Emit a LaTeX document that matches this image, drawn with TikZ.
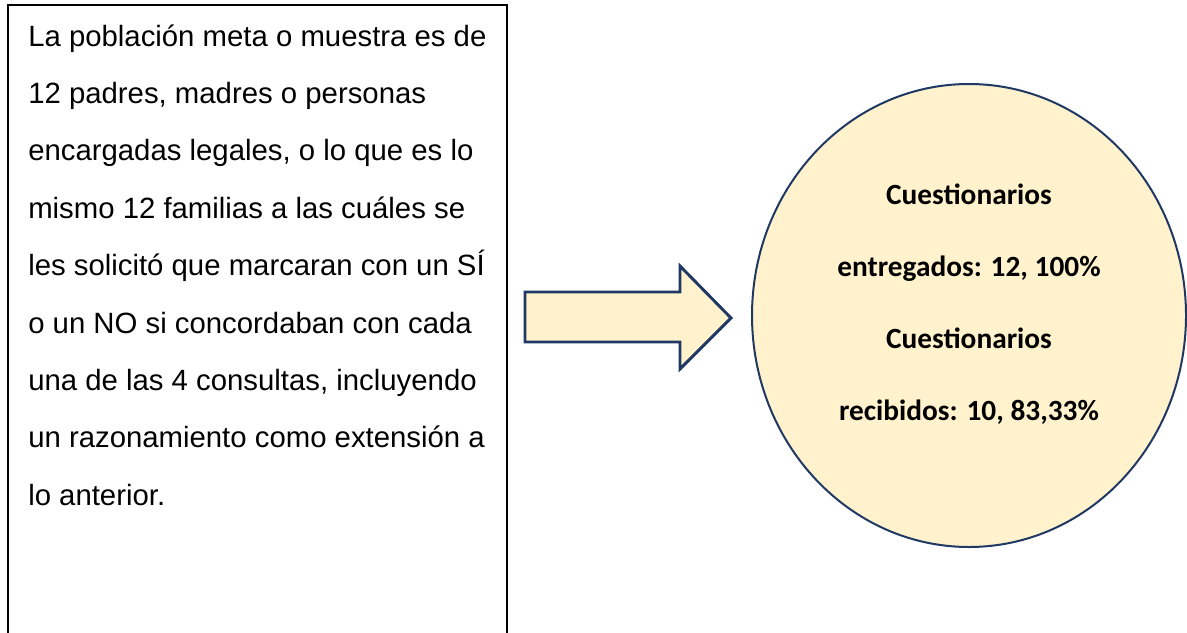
\documentclass[tikz,border=0pt]{standalone}
\usepackage{fontspec}
\setmainfont{Liberation Sans}
\newfontfamily\calfont{Carlito}
\definecolor{fondo}{RGB}{255,242,204}
\definecolor{borde}{RGB}{32,56,100}
\tikzset{
	linea/.style={anchor=base west, inner sep=0pt, font=\fontsize{22}{26}\selectfont},
	cifra/.style={anchor=base, inner sep=0pt, font=\calfont\bfseries\fontsize{22}{26}\selectfont}
}
\begin{document}
\begin{tikzpicture}[x=0.75pt,y=0.75pt,yscale=-1,xscale=1]
	\useasboundingbox (0,0) rectangle (1187,632);
	% cuadro de texto
	\draw [line width=1.5] (8,645) -- (8,5) -- (507,5) -- (507,645) ;
	\draw (28,46) node [linea] (l1) {La población meta o muestra es de};
	\draw (28,103.4) node [linea] (l2) {12 padres, madres o personas};
	\draw (28,160.8) node [linea] (l3) {encargadas legales, o lo que es lo};
	\draw (28,218.2) node [linea] (l4) {mismo 12 familias a las cuáles se};
	\draw (28,275.6) node [linea] (l5) {les solicitó que marcaran con un SÍ};
	\draw (28,333) node [linea] (l6) {o un NO si concordaban con cada};
	\draw (28,390.4) node [linea] (l7) {una de las 4 consultas, incluyendo};
	\draw (28,447.8) node [linea] (l8) {un razonamiento como extensión a};
	\draw (28,505.2) node [linea] (l9) {lo anterior.};
	% flecha
	\draw [color=borde, fill=fondo, line width=2.2, line join=miter] (525,292) -- (680,292) -- (680,266) -- (731,318) -- (680,369) -- (680,342) -- (525,342) -- cycle ;
	% elipse
	\draw [color=borde, fill=fondo, line width=1.5] (969,315.5) ellipse (217 and 231.5) ;
	\draw (969,204) node [cifra] (c1) {Cuestionarios};
	\draw (969,276) node [cifra] (c2) {entregados: 12, 100\%};
	\draw (969,348) node [cifra] (c3) {Cuestionarios};
	\draw (969,420) node [cifra] (c4) {recibidos: 10, 83,33\%};
\end{tikzpicture}
\end{document}
